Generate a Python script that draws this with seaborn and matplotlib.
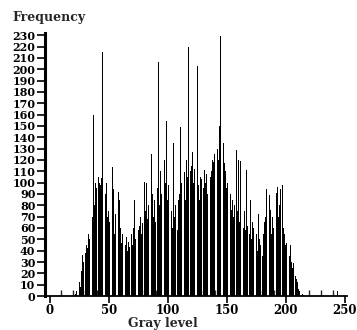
# Gray level histogram
import numpy as np
import pandas as pd
import matplotlib
matplotlib.use('Agg')
import matplotlib.pyplot as plt
from matplotlib.ticker import MultipleLocator
import seaborn as sns

# counts per gray level, 0..255
counts_0_19 = [0] * 20
counts_20_69 = [0, 0, 2, 4, 11, 12, 8, 22, 36, 30,
                38, 45, 42, 55, 50, 62, 70, 160, 80, 100,
                95, 105, 100, 98, 104, 215, 194, 90, 100, 70,
                75, 65, 60, 114, 94, 55, 72, 50, 92, 85,
                60, 47, 55, 83, 45, 52, 40, 48, 43, 55]
counts_70_119 = [45, 60, 85, 50, 89, 58, 62, 70, 55, 64,
                 101, 75, 100, 68, 80, 72, 125, 90, 70, 85,
                 65, 95, 206, 80, 110, 90, 184, 120, 100, 154,
                 85, 98, 141, 75, 60, 135, 70, 80, 58, 85,
                 90, 149, 100, 95, 109, 85, 120, 105, 220, 110]
counts_120_169 = [115, 127, 100, 112, 95, 203, 98, 85, 105, 103,
                  95, 111, 100, 108, 90, 116, 105, 110, 120, 118,
                  125, 213, 130, 120, 150, 229, 147, 135, 117, 110,
                  95, 100, 207, 90, 76, 85, 70, 80, 129, 75,
                  120, 65, 119, 70, 60, 75, 58, 111, 62, 55]
counts_170_219 = [85, 50, 65, 60, 45, 55, 40, 72, 50, 45,
                  35, 55, 65, 70, 94, 60, 89, 76, 55, 70,
                  60, 85, 91, 96, 70, 80, 94, 98, 60, 55,
                  45, 47, 40, 35, 45, 30, 25, 29, 18, 15,
                  12, 6, 4, 3, 2, 1, 0, 0, 0, 0]
counts_220_255 = [1, 0, 0, 0, 0, 0, 0, 0, 0, 0,
                  1, 0, 0, 0, 0, 0, 0, 0, 0, 0,
                  0, 0, 0, 0, 4, 0, 0, 0, 0, 0,
                  0, 0, 0, 0, 0, 0]

counts = (counts_0_19 + counts_20_69 + counts_70_119 + counts_120_169
          + counts_170_219 + counts_220_255)
levels = list(range(256))
df = pd.DataFrame({'level': levels, 'count': counts})

sns.set_style('ticks')
plt.rcParams['font.family'] = ['DejaVu Serif']
plt.rcParams['font.weight'] = 'bold'

fig = plt.figure(figsize=(3.57, 3.30), dpi=100)
ax = fig.add_axes([0.126, 0.103, 0.846, 0.797])

sns.histplot(data=df, x='level', weights='count', discrete=True, shrink=0.75,
             color='black', edgecolor=None, linewidth=0, alpha=1, ax=ax)

ax.set_xlim(-4, 252)
ax.set_ylim(0, 232)
ax.set_xticks([0, 50, 100, 150, 200, 250])
ax.xaxis.set_minor_locator(MultipleLocator(10))
ax.set_yticks(range(0, 231, 10))
ax.tick_params(axis='x', which='major', direction='out', length=5, width=1.2,
               labelsize=8.5, pad=1, colors='black')
ax.tick_params(axis='x', which='minor', direction='in', length=4, width=1)
ax.tick_params(axis='y', which='major', direction='out', length=6, width=1.2,
               labelsize=8, pad=1, colors='black')
for lab in ax.get_xticklabels() + ax.get_yticklabels():
    lab.set_fontweight('bold')

sns.despine(ax=ax)
ax.spines['left'].set_linewidth(2.2)
ax.spines['bottom'].set_linewidth(1.3)
ax.spines['left'].set_color('black')
ax.spines['bottom'].set_color('black')

ax.set_xlabel('Gray level', fontsize=9, fontweight='bold', labelpad=0)
ax.xaxis.set_label_coords(0.39, -0.078)
ax.set_ylabel('')
fig.text(0.034, 0.948, 'Frequency', fontsize=9, fontweight='bold',
         ha='left', va='center')

fig.savefig('out.png', dpi=100)
